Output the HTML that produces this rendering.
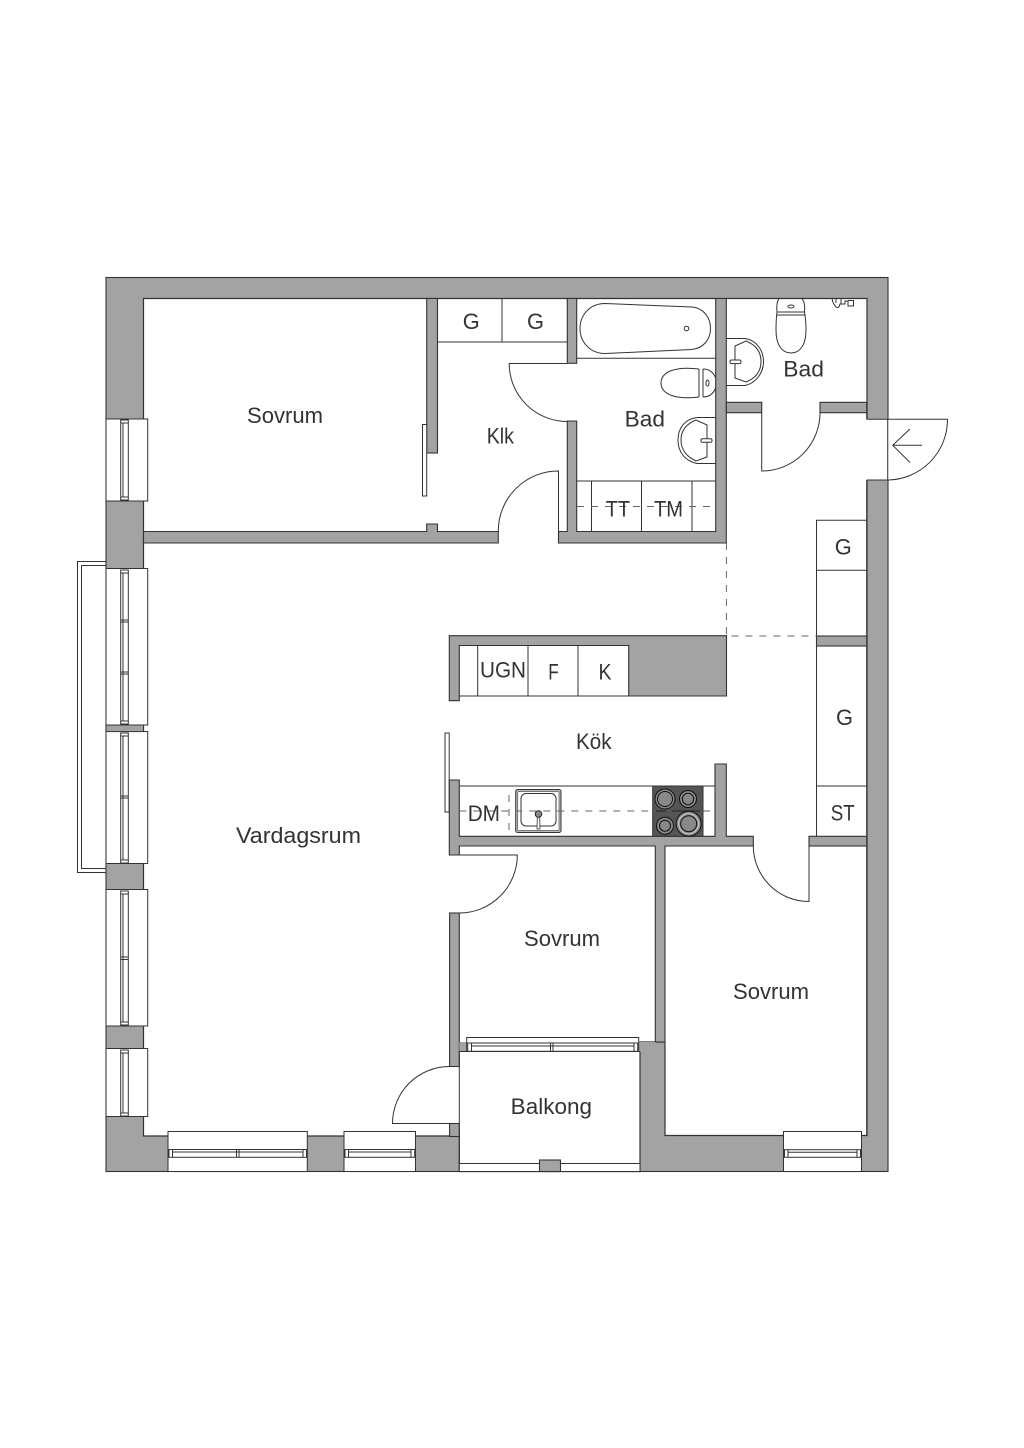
<!DOCTYPE html>
<html><head><meta charset="utf-8"><style>
html,body{margin:0;padding:0;background:#fff;width:1024px;height:1448px;overflow:hidden}
svg{display:block}
text{font-family:"Liberation Sans",sans-serif;font-size:22px;fill:#333}
.w{fill:#a3a3a3;stroke:#333;stroke-width:1.1}
.l{fill:none;stroke:#333;stroke-width:1}
.f{fill:#fff;stroke:#333;stroke-width:1}
.d{fill:none;stroke:#666;stroke-width:1;stroke-dasharray:7 7}
</style></head><body>
<svg width="1024" height="1448" viewBox="0 0 1024 1448" xmlns="http://www.w3.org/2000/svg">
<rect width="1024" height="1448" fill="#fff"/>
<!-- balcony rail left -->
<path class="f" d="M106 561.5H77.5V872.5H106V868.5H81.5V565.5H106Z"/>
<!-- outer -->
<rect class="w" x="106" y="277.5" width="782" height="894"/>
<path d="M143.5 298.5H867V1135.5H665V1042H640V1171.5H459.3V1136H143.5Z" fill="#fff" stroke="#333" stroke-width="1.2"/>
<!-- entrance -->
<rect x="866" y="419.3" width="22.5" height="60.7" fill="#fff"/>
<path class="l" d="M866.7 419.3V412.7M866.7 480V1135M866.7 419.3H947.5A60.5 60.5 0 0 1 887 480H866.7M887.7 419V480"/>
<path class="l" d="M910 429L892.7 445.3L910 462.5M892.7 445.3H922"/>
<!-- interior walls -->
<path class="w" d="M143.5 531.5H426.7V524H437.5V531.5H498.3V543H143.5Z"/>
<rect class="w" x="426.7" y="298.5" width="10.8" height="154.5"/>
<rect class="f" x="422.5" y="424.5" width="4.2" height="71.5"/>
<path class="w" d="M567.3 531.5V421H576.7V531.5H715.7V298.5H726.3V543H558.5V531.5Z"/>
<rect class="w" x="567.3" y="298.5" width="9.4" height="64.8"/>
<path class="w" d="M726.3 402.3H761.7V412.7H726.3Z"/>
<path class="w" d="M820 402.3H866.7V412.7H820Z"/>
<path class="w" d="M449.3 635.7H726.5V696H628.7V645.5H459.3V700.7H449.3Z"/>
<rect class="w" x="816.5" y="636" width="50.2" height="10"/>
<rect class="f" x="445" y="733" width="4.2" height="79"/>
<path class="w" d="M449.3 780H459.3V836.3H715V764H726.3V836.3H753.3V846H665V1042H655.3V846H459.3V855H449.3Z"/>
<rect class="w" x="809" y="836.3" width="57.7" height="9.7"/>
<rect class="w" x="449.6" y="913" width="9.7" height="153.5"/>
<rect class="w" x="449.6" y="1123.5" width="9.7" height="13"/>
<path d="M459.3 1042H655.3V1051.5H459.3Z" fill="#a3a3a3"/>
<path class="l" d="M640 1051.5V1171.5M655.3 1042H665M459.3 1051.5H640"/>
<rect x="641" y="1043" width="14" height="10" fill="#a3a3a3"/>
<path class="l" d="M459.3 1051.5V1171.5"/>
<!-- doors -->
<path class="l" d="M567.3 363.5H509.2A58 58 0 0 0 567.3 421.5"/>
<path class="l" d="M558.5 543V471A60 60 0 0 0 498.3 531.5"/>
<path class="l" d="M761.7 412.7V471A58.3 58.3 0 0 0 820 412.7"/>
<path class="l" d="M809 846V901.5A55.7 55.7 0 0 1 753.3 846"/>
<path class="l" d="M459.3 855H517.3A58 58 0 0 1 459.3 913"/>
<path class="l" d="M459.3 1123.5H392.5A57 57 0 0 1 449.6 1066.5H459.3"/>
<!-- closets -->
<path class="l" d="M437.5 342H567.3M502 298.5V342"/>
<path class="l" d="M576.7 358.3H715.7M576.7 481H715.7M591.5 481V531.5M641.5 481V531.5M692 481V531.5"/>
<path class="d" d="M577 506.5H716"/>
<path class="l" d="M816.5 636V520.3H866.7M816.5 570.3H866.7M816.5 646V836.3M816.5 786H866.7"/>
<path class="l" d="M459.3 696H628.7M477.7 645.5V696M528 645.5V696M578 645.5V696"/>
<path class="l" d="M459.3 786H715"/>
<path class="d" d="M726.4 543V636H816.5"/>
<!-- bath -->
<path class="l" d="M605 303.5L692 307C704 308 710.5 318 710.5 328.5C710.5 339 704 348 692 349.5L605 353.5C590 353.5 580 342 580 328.5C580 315 590 303.5 605 303.5Z"/>
<circle class="l" cx="686.5" cy="328.5" r="2.3"/>
<!-- toilet bad 1 -->
<path class="l" d="M699 369C675 366 661 372 661 383C661 394 675 400 699 397M699 369V397M703 369V397M703 369Q712 369 715.7 378M715.7 388Q712 397 703 397"/>
<ellipse class="l" cx="707.5" cy="383" rx="1.5" ry="3"/>
<!-- sink bad 1 -->
<path class="l" d="M715.7 417.5H697C685 419 678 428 678 440C678 452 685 461 697 463.5H715.7"/>
<path class="l" d="M707 425L696 420Q681 426 681 440Q681 454 696 461L707 457V425Z"/>
<rect class="f" x="701" y="438.7" width="11" height="3.6" rx="1.5"/>
<!-- toilet bad 2 -->
<path class="l" d="M779 298.5Q776 303 777 312H804.5Q805.5 303 802 298.5M776.5 315H805M777 312Q776 320 776 330C776 345 782 353 791 353C800 353 806 345 806 330Q806 320 804.5 312"/>
<ellipse class="l" cx="791" cy="306.5" rx="3" ry="1.5"/>
<!-- sink bad 2 -->
<path class="l" d="M726.5 338.5H745C756 340 763.5 350 763.5 361.5C763.5 373 756 383 745 385.5H726.5"/>
<path class="l" d="M735 346L746 341Q761 347 761 361.5Q761 376 746 382L735 378V346Z"/>
<rect class="f" x="730" y="360" width="11" height="3.6" rx="1.5"/>
<!-- bidet -->
<path class="l" d="M832 298.5Q833 304 836 307Q839 309 840 304H845V301H848V306H853.5V300.5H848M836 298.5V303M841 299V304"/>
<!-- sink kitchen -->
<rect x="515.7" y="789.5" width="45.3" height="43" rx="2" fill="#bdbdbd" stroke="#333"/>
<rect x="517.7" y="791.5" width="41.3" height="39" rx="1" fill="#fff" stroke="#555" stroke-width=".7"/>
<rect class="l" x="521" y="793.5" width="35" height="32.5" rx="5"/>
<path class="d" d="M459.3 811H652.5M703 811H715"/>
<path class="d" d="M509 795V836"/>
<path d="M537.3 816H539.7L540 829H537Z" fill="#fff" stroke="#333" stroke-width=".8"/>
<circle cx="538.5" cy="814" r="3.3" fill="#888" stroke="#222" stroke-width="1"/>
<!-- hob -->
<rect x="652.7" y="786" width="50.3" height="50.3" fill="#555" stroke="#333"/>
<path d="M656 811H666M672 811H700" stroke="#222" stroke-width="1"/>
<g fill="#888" stroke="#111" stroke-width="1">
<circle cx="665" cy="799" r="10"/><circle cx="665" cy="799" r="7.5"/>
<circle cx="688" cy="799" r="8.5"/><circle cx="688" cy="799" r="5.7"/>
<circle cx="665" cy="825.7" r="8.5"/><circle cx="665" cy="825.7" r="5.5"/>
<circle cx="688.7" cy="823.7" r="12.5"/><circle cx="688.7" cy="823.7" r="10" stroke="#ccc"/><circle cx="688.7" cy="823.7" r="8"/>
</g>
<!-- left windows -->
<g>
<rect class="f" x="106" y="419" width="41.7" height="82"/>
<rect class="f" x="120.7" y="420" width="7.6" height="80"/><path class="l" d="M123 423V497M120.7 423H128.3M120.7 497H128.3" stroke="#777"/>
<rect class="f" x="106" y="568.5" width="41.7" height="156.5"/>
<rect class="f" x="120.7" y="570" width="7.6" height="154"/><path class="l" d="M123 573V721M120.7 573H128.3M120.7 620H128.3M120.7 622H128.3M120.7 672H128.3M120.7 674H128.3M120.7 721H128.3"/>
<rect class="f" x="106" y="731.5" width="41.7" height="132"/>
<rect class="f" x="120.7" y="733" width="7.6" height="130"/><path class="l" d="M123 736V860M120.7 736H128.3M120.7 796H128.3M120.7 798H128.3M120.7 860H128.3"/>
<rect x="106" y="725" width="37.5" height="6.6" fill="#a3a3a3" stroke="#333"/>
<rect class="f" x="106" y="889.5" width="41.7" height="136.5"/>
<rect class="f" x="120.7" y="891" width="7.6" height="134"/><path class="l" d="M123 894V1022M120.7 894H128.3M120.7 957H128.3M120.7 959.5H128.3M120.7 1022H128.3"/>
<rect class="f" x="106" y="1048.5" width="41.7" height="68"/>
<rect class="f" x="120.7" y="1050" width="7.6" height="66"/><path class="l" d="M123 1053V1113M120.7 1053H128.3M120.7 1113H128.3"/>
</g>
<!-- bottom windows -->
<g>
<rect class="f" x="168" y="1131.5" width="139.3" height="40"/>
<rect class="f" x="169" y="1149.5" width="137.5" height="7.8"/><path class="l" d="M172.5 1149.5V1157.3M303 1149.5V1157.3M236.5 1149.5V1157.3M239 1149.5V1157.3M172.5 1152H303"/>
<rect class="f" x="344" y="1131.5" width="71.5" height="40"/>
<rect class="f" x="345" y="1149.5" width="69.7" height="7.8"/><path class="l" d="M348.5 1149.5V1157.3M411 1149.5V1157.3M348.5 1152H411"/>
<rect class="f" x="783.5" y="1131.5" width="78" height="40"/>
<rect class="f" x="784.5" y="1149.7" width="76" height="7.6"/><path class="l" d="M788 1149.7V1157.3M857 1149.7V1157.3M788 1152.3H857"/>
<!-- balcony door window -->
<rect class="f" x="466.7" y="1037.5" width="172" height="14"/>
<rect class="f" x="467.7" y="1043" width="170" height="8.3"/><path class="l" d="M471.5 1043V1051.3M634 1043V1051.3M550.5 1043V1051.3M553 1043V1051.3M471.5 1046H634"/>
<!-- balcony rail bottom -->
<rect class="f" x="459.3" y="1163.5" width="180.7" height="8"/>
<rect class="w" x="539.5" y="1160" width="21" height="11.5"/>
</g>
<path class="l" d="M106 1171.5H888" stroke-width="1.2"/>
<!-- labels -->
<text x="247" y="423" textLength="76" lengthAdjust="spacingAndGlyphs">Sovrum</text>
<text x="486.7" y="443.3" textLength="27.3" lengthAdjust="spacingAndGlyphs">Klk</text>
<text x="624.7" y="426.7" textLength="40.3" lengthAdjust="spacingAndGlyphs">Bad</text>
<text x="783.3" y="376.7" textLength="40.7" lengthAdjust="spacingAndGlyphs">Bad</text>
<text x="462.7" y="329" textLength="17" lengthAdjust="spacingAndGlyphs">G</text>
<text x="527" y="329" textLength="17" lengthAdjust="spacingAndGlyphs">G</text>
<text x="605.7" y="516.7" textLength="24.3" lengthAdjust="spacingAndGlyphs">TT</text>
<text x="654" y="516.7" textLength="29" lengthAdjust="spacingAndGlyphs">TM</text>
<text x="834.7" y="554.3" textLength="17" lengthAdjust="spacingAndGlyphs">G</text>
<text x="836" y="725" textLength="17" lengthAdjust="spacingAndGlyphs">G</text>
<text x="830.7" y="820.7" textLength="24" lengthAdjust="spacingAndGlyphs">ST</text>
<text x="480" y="677.3" textLength="46" lengthAdjust="spacingAndGlyphs">UGN</text>
<text x="548.3" y="679.3" textLength="10.5" lengthAdjust="spacingAndGlyphs">F</text>
<text x="598.5" y="679.3" textLength="13" lengthAdjust="spacingAndGlyphs">K</text>
<text x="576" y="749" textLength="35.5" lengthAdjust="spacingAndGlyphs">Kök</text>
<text x="467.7" y="821" textLength="32.3" lengthAdjust="spacingAndGlyphs">DM</text>
<text x="236" y="843" textLength="125" lengthAdjust="spacingAndGlyphs">Vardagsrum</text>
<text x="524" y="946" textLength="76" lengthAdjust="spacingAndGlyphs">Sovrum</text>
<text x="733" y="999" textLength="76" lengthAdjust="spacingAndGlyphs">Sovrum</text>
<text x="510.7" y="1114" textLength="81.3" lengthAdjust="spacingAndGlyphs">Balkong</text>
</svg>
</body></html>
